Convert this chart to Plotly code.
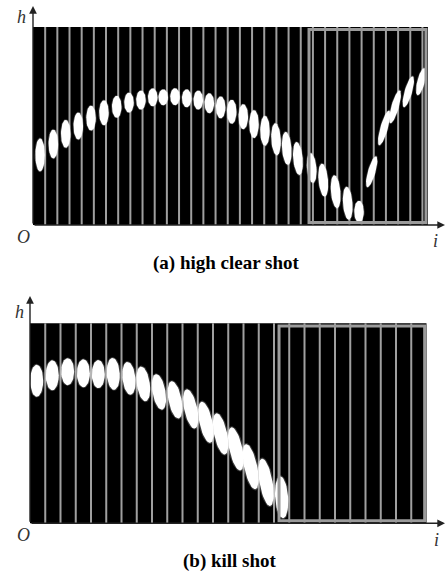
import numpy as np
import plotly.graph_objects as go

# ---------------- data ----------------
# (a) high clear shot: frame index i and height h of each shuttle blob
a_i = [0.58, 1.67, 2.69, 3.72, 4.77, 5.83, 6.88, 7.89, 8.87, 9.84, 10.7, 11.67, 12.63,
       13.58, 14.49, 15.42, 16.33, 17.28, 18.16, 19.06, 19.97, 20.85, 21.77, 22.9, 23.85,
       24.87, 25.86, 26.79, 27.83, 28.85, 29.75, 30.84, 31.88]
a_h = [3.54, 4.09, 4.6, 5.0, 5.4, 5.67, 5.97, 6.18, 6.31, 6.45, 6.45, 6.48, 6.4,
       6.31, 6.15, 5.94, 5.72, 5.47, 5.1, 4.76, 4.33, 3.87, 3.36, 2.88, 2.27,
       1.68, 1.1, 0.67, 2.69, 4.9, 5.97, 6.73, 7.24]
a_len = [33, 29, 28, 27, 25, 25, 22, 20, 19, 18, 16, 17, 18, 19, 20, 22, 24, 25, 28, 30,
         32, 33, 33, 30, 33, 33, 33, 22, 32, 36, 34, 32, 28]
a_tilt = [0] * 20 + [-3, -4, -5, -5, -5, -5, -4, 0] + [16, 16, 16, 16, 14]
a_wid = [9.5] * 28 + [7.5] * 5

# (b) kill shot
b_i = [0.44, 1.46, 2.47, 3.5, 4.48, 5.46, 6.49, 7.43, 8.46, 9.51, 10.54, 11.54, 12.5,
       13.5, 14.47, 15.48, 16.5]
b_h = [7.13, 7.4, 7.58, 7.5, 7.46, 7.47, 7.25, 6.97, 6.57, 6.17, 5.72, 5.05, 4.47,
       3.72, 2.83, 2.05, 1.3]
b_len = [32, 30, 27, 28, 28, 32, 33, 35, 36, 38, 40, 42, 42, 44, 46, 48, 42]
b_tilt = [0, 0, 0, 0, 0, -3, -6, -8, -10, -11, -12, -12, -12, -12, -12, -10, -4]
b_wid = [13.0] * 17

a_frames = 32.45          # width of frame strip (in frames)
b_frames = 26.0
a_stripes = list(range(1, 33))
b_stripes = list(range(1, 26))
a_box = (22.68, 32.29)     # highlighted interval (i range)
b_box = (16.33, 25.88)
H = 10.0

captions = ["(a) high clear shot", "(b) kill shot"]

# ---------------- figure ----------------
W, HT = 447, 575
fig = go.Figure()

panels = [
    dict(xa="x", ya="y", ppx=12.17, ppy=19.8, ox=33.0, oy=225.0, top=0, bot=250,
         ii=a_i, hh=a_h, ln=a_len, tl=a_tilt, wd=a_wid, frames=a_frames,
         stripes=a_stripes, box=a_box),
    dict(xa="x2", ya="y2", ppx=15.25, ppy=20.0, ox=30.0, oy=523.3, top=290, bot=575,
         ii=b_i, hh=b_h, ln=b_len, tl=b_tilt, wd=b_wid, frames=b_frames,
         stripes=b_stripes, box=b_box),
]

shapes = []
annotations = []
t = np.linspace(0, 2 * np.pi, 48)
for p in panels:
    ppx, ppy = p["ppx"], p["ppy"]
    shapes.append(dict(type="rect", xref=p["xa"], yref=p["ya"], x0=0, x1=p["frames"],
                       y0=0, y1=H, fillcolor="black", line=dict(width=0), layer="below"))
    for s in p["stripes"]:
        shapes.append(dict(type="line", xref=p["xa"], yref=p["ya"], x0=s, x1=s, y0=0, y1=H,
                           line=dict(color="rgb(160,160,160)", width=2), layer="below"))
    shapes.append(dict(type="rect", xref=p["xa"], yref=p["ya"], x0=p["box"][0], x1=p["box"][1],
                       y0=0.13, y1=H - 0.13, line=dict(color="rgb(155,155,155)", width=3),
                       fillcolor="rgba(0,0,0,0)", layer="above"))
    for ci, ch, L, th, wd in zip(p["ii"], p["hh"], p["ln"], p["tl"], p["wd"]):
        thr = np.deg2rad(th)
        for scale, col in [(1.18, "rgba(255,255,255,0.22)"), (1.0, "white")]:
            a = wd / 2 * scale
            b = L / 2 * (1 + (scale - 1) * 0.3)
            dxp = a * np.cos(t) * np.cos(thr) + b * np.sin(t) * np.sin(thr)
            dyp = -a * np.cos(t) * np.sin(thr) + b * np.sin(t) * np.cos(thr)
            fig.add_trace(go.Scatter(x=ci + dxp / ppx, y=ch + dyp / ppy, mode="lines",
                                     fill="toself", fillcolor=col, line=dict(width=0),
                                     xaxis=p["xa"], yaxis=p["ya"], hoverinfo="skip",
                                     showlegend=False))
    ytip = (p["oy"] - (p["top"] + 6)) / ppy
    xtip = (445 - p["ox"]) / ppx
    for (x, y) in [(0, ytip), (xtip, 0)]:
        annotations.append(dict(x=x, y=y, ax=0, ay=0, xref=p["xa"], yref=p["ya"],
                                axref=p["xa"], ayref=p["ya"], text="", showarrow=True,
                                arrowhead=2, arrowsize=1.1, arrowwidth=1.4,
                                arrowcolor="#222", standoff=0, startstandoff=0))


def lab(txt, px, py, size=18):
    annotations.append(dict(x=px / W, y=1 - py / HT, xref="paper", yref="paper", text=txt,
                            showarrow=False, xanchor="center", yanchor="middle",
                            font=dict(family="Liberation Serif", size=size, color="#333")))


lab("<i>h</i>", 21, 17)
lab("<i>O</i>", 23, 237)
lab("<i>i</i>", 435, 241)
lab("<i>h</i>", 19, 312)
lab("<i>O</i>", 23, 535)
lab("<i>i</i>", 436, 540)

for txt, px, py in [(captions[0], 226, 263), (captions[1], 230, 561)]:
    annotations.append(dict(x=px / W, y=1 - py / HT, xref="paper", yref="paper",
                            text="<b>" + txt + "</b>", showarrow=False, xanchor="center",
                            yanchor="middle",
                            font=dict(family="Liberation Serif", size=19, color="black")))

layout_axes = {}
for k, p in enumerate(panels):
    xr = [(0 - p["ox"]) / p["ppx"], (W - p["ox"]) / p["ppx"]]
    yr = [(p["oy"] - p["bot"]) / p["ppy"], (p["oy"] - p["top"]) / p["ppy"]]
    dom = [1 - p["bot"] / HT, 1 - p["top"] / HT]
    sx = "" if k == 0 else "2"
    layout_axes["xaxis" + sx] = dict(range=xr, domain=[0, 1], visible=False, fixedrange=True,
                                     anchor="y" + sx)
    layout_axes["yaxis" + sx] = dict(range=yr, domain=dom, visible=False, fixedrange=True,
                                     anchor="x" + sx)

fig.update_layout(width=W, height=HT, margin=dict(l=0, r=0, t=0, b=0),
                  paper_bgcolor="white", plot_bgcolor="white", showlegend=False,
                  shapes=shapes, annotations=annotations, **layout_axes)

fig.write_html("out.html", config={"displayModeBar": False},
               post_script="document.body.style.margin='0';document.body.style.overflow='hidden';")
